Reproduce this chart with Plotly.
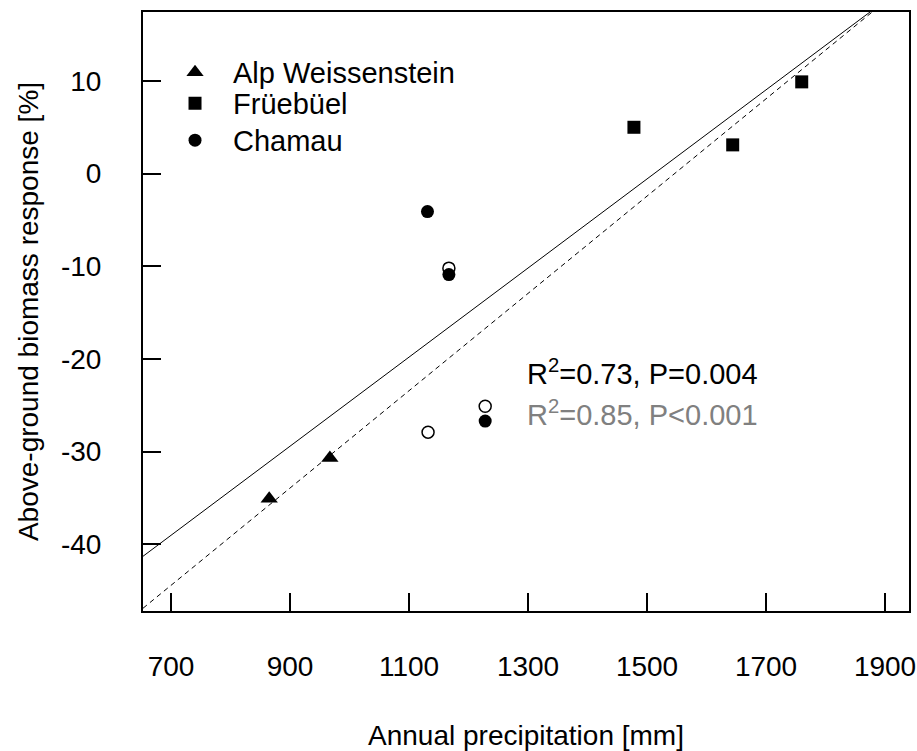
import plotly.graph_objects as go

# ---- data ----
alp_x = [865, 967]
alp_y = [-35.1, -30.7]

frue_x = [1478, 1644, 1760]
frue_y = [5.0, 3.1, 9.9]

cham_x = [1131, 1167, 1228]
cham_y = [-4.1, -10.9, -26.7]

cham_open_x = [1132, 1167, 1228]
cham_open_y = [-27.9, -10.2, -25.1]

# regression lines (intercept, slope)
fit_solid = (-72.68, 0.04807)
fit_dashed = (-81.18, 0.0525)

x_range = [652.9, 1940.3]
y_range = [-47.2, 17.44]
x_ticks = [700, 900, 1100, 1300, 1500, 1700, 1900]
y_ticks = [-40, -30, -20, -10, 0, 10]
y_ticktext = ["-40", "-30", "-20", "-10", "0", "10"]

FONT = "Liberation Sans, Arial, sans-serif"

fig = go.Figure()

line_x = [x_range[0], x_range[1]]
fig.add_trace(go.Scatter(
    x=line_x, y=[fit_solid[0] + fit_solid[1] * v for v in line_x],
    mode="lines", line=dict(color="black", width=1), showlegend=False, hoverinfo="skip"))
fig.add_trace(go.Scatter(
    x=line_x, y=[fit_dashed[0] + fit_dashed[1] * v for v in line_x],
    mode="lines", line=dict(color="black", width=1, dash="5px,4px"), showlegend=False, hoverinfo="skip"))

fig.add_trace(go.Scatter(
    x=cham_open_x, y=cham_open_y, mode="markers", showlegend=False,
    marker=dict(symbol="circle", size=12, color="white", line=dict(color="black", width=1.5))))

fig.add_trace(go.Scatter(
    x=alp_x, y=alp_y, mode="markers", name="Alp Weissenstein", legend="legend",
    marker=dict(symbol="triangle-up", size=15, color="black", line=dict(width=0))))
fig.add_trace(go.Scatter(
    x=frue_x, y=frue_y, mode="markers", name="Früebüel", legend="legend2",
    marker=dict(symbol="square", size=13, color="black", line=dict(width=0))))
fig.add_trace(go.Scatter(
    x=cham_x, y=cham_y, mode="markers", name="Chamau", legend="legend3",
    marker=dict(symbol="circle", size=13, color="black", line=dict(width=0))))

fig.add_annotation(x=0.499, y=0.399, xref="paper", yref="paper", xanchor="left", yanchor="middle",
                   text="R<sup>2</sup>=0.73, P=0.004", showarrow=False,
                   font=dict(family=FONT, size=29, color="black"))
fig.add_annotation(x=0.499, y=0.330, xref="paper", yref="paper", xanchor="left", yanchor="middle",
                   text="R<sup>2</sup>=0.85, P<0.001", showarrow=False,
                   font=dict(family=FONT, size=29, color="#808080"))

def leg(ypix):
    return dict(x=0.0183, y=1 - (ypix - 11.7) / 599, xanchor="left", yanchor="middle",
                bgcolor="rgba(0,0,0,0)", font=dict(size=29, family=FONT),
                itemwidth=66)

fig.update_layout(
    width=917, height=751,
    margin=dict(l=143, r=8, t=12, b=140),
    paper_bgcolor="white", plot_bgcolor="white",
    font=dict(family=FONT, size=28, color="black"),
    showlegend=True,
    legend=leg(72), legend2=leg(103), legend3=leg(140),
)
fig.update_xaxes(
    range=x_range, tickvals=x_ticks, ticks="inside", ticklen=18, tickwidth=2, tickcolor="black",
    showline=True, linecolor="black", linewidth=2, mirror=True, showgrid=False, zeroline=False,
    ticklabelstandoff=29, automargin=False,
    title=dict(text="Annual precipitation [mm]", standoff=45, font=dict(size=28)))
fig.update_yaxes(
    range=y_range, tickvals=y_ticks, ticktext=y_ticktext, ticks="inside", ticklen=18, tickwidth=2,
    tickcolor="black",
    showline=True, linecolor="black", linewidth=2, mirror=True, showgrid=False, zeroline=False,
    ticklabelstandoff=34, automargin=False,
    title=dict(text="Above-ground biomass response [%]", standoff=14, font=dict(size=28)))

fig.write_html(
    "out.html",
    config={"displayModeBar": False},
    post_script=("document.body.style.margin='0';"
                 "document.documentElement.style.overflow='hidden';"
                 "document.body.style.overflow='hidden';"))
